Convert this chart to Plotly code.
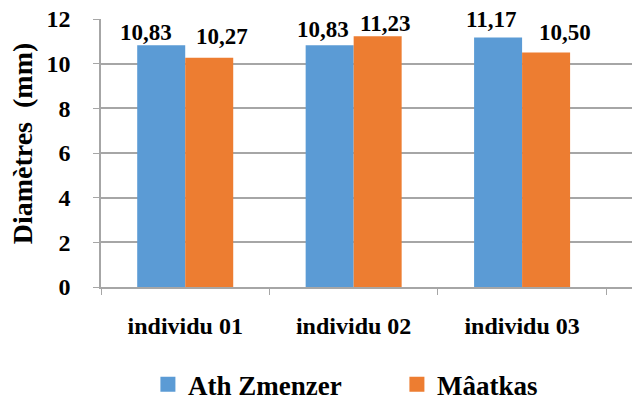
import plotly.graph_objects as go

categories = ["individu 01", "individu 02", "individu 03"]
series_names = ["Ath Zmenzer", "Mâatkas"]
ath_zmenzer = [10.83, 10.83, 11.17]
maatkas = [10.27, 11.23, 10.50]
y_ticks = [0, 2, 4, 6, 8, 10, 12]

# label offsets (px) mimicking the reference's label placement
label_dx = [[-15, -7, -7], [13, 7, 19]]
label_dy = [[13, 16, 18], [21, 13, 20]]

colors = ["#5B9BD5", "#ED7D31"]
FONT = "Liberation Serif, Times New Roman, serif"

fig = go.Figure()
for name, vals, col in zip(series_names, [ath_zmenzer, maatkas], colors):
    fig.add_trace(go.Bar(
        x=categories, y=vals, name=name, showlegend=False,
        marker=dict(color=col, line=dict(width=0)),
    ))
# legend entries with larger square swatches
for name, col in zip(series_names, colors):
    fig.add_trace(go.Scatter(
        x=[None], y=[None], name=name, mode="markers",
        marker=dict(symbol="square", size=15, color=col, line=dict(width=0)),
    ))

# value labels
for s, vals in enumerate([ath_zmenzer, maatkas]):
    for i, v in enumerate(vals):
        fig.add_annotation(
            x=i, y=v, xref="x", yref="y",
            text=f"{v:.2f}".replace(".", ","), showarrow=False,
            font=dict(family=FONT, size=23, color="black", weight="bold"),
            xanchor="center", yanchor="middle",
            xshift=(s - 0.5) * 48 + label_dx[s][i], yshift=label_dy[s][i],
        )

# y-axis title
fig.add_annotation(
    x=-0.146, y=0.5, xref="paper", yref="paper", yshift=10,
    text="Diamètres  (mm)", textangle=-90, showarrow=False,
    font=dict(family=FONT, size=28, color="black", weight="bold"),
    xanchor="center", yanchor="middle",
)

# page body has an 8px margin, so the figure is 8px smaller than the window
fig.update_layout(
    width=632, height=396,
    margin=dict(l=93, r=0, t=11, b=117, autoexpand=False),
    paper_bgcolor="white", plot_bgcolor="white",
    barmode="group", bargap=0.43, bargroupgap=0,
    font=dict(family=FONT, size=24, color="black", weight="bold"),
    legend=dict(orientation="h", x=0.549, xanchor="center", y=-0.365, yanchor="middle",
                font=dict(family=FONT, size=27, color="black", weight="bold"),
                entrywidth=204, entrywidthmode="pixels", itemwidth=30,
                itemsizing="trace"),
)
fig.update_xaxes(
    range=[-0.5, 2.70], showgrid=False, showline=True, linecolor="#A6A6A6", linewidth=1.5,
    ticks="outside", tickson="boundaries", ticklen=6, tickcolor="#A6A6A6",
    tickfont=dict(family=FONT, size=24, color="black", weight="bold"), ticklabelstandoff=16,
    automargin=False,
)
fig.update_yaxes(
    range=[0, 12], tickvals=y_ticks, showgrid=True, gridcolor="#A6A6A6", gridwidth=1.5,
    showline=True, linecolor="#A6A6A6", linewidth=1.5, zeroline=False,
    ticks="outside", ticklen=6, tickcolor="#A6A6A6", ticklabeloverflow="allow",
    tickfont=dict(family=FONT, size=24, color="black", weight="bold"), ticklabelstandoff=18,
    automargin=False,
)
fig.write_html("out.html")
